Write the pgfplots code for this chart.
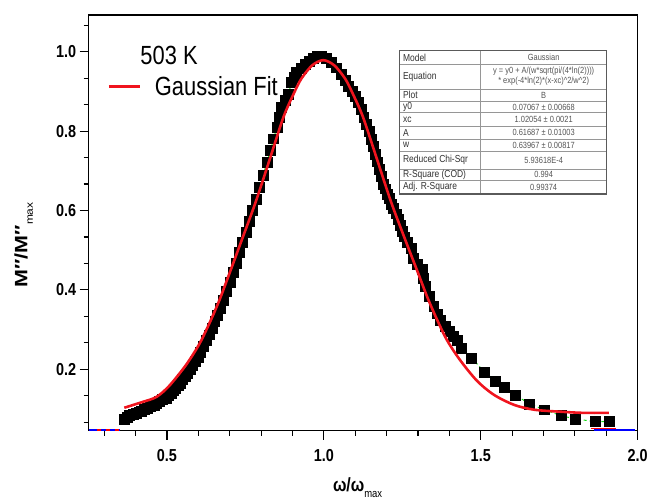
\documentclass[border=0pt]{standalone}
\usepackage{pgfplots}
\pgfplotsset{compat=1.18}
\usepackage{pgfplotstable}
\usepackage{fontspec}
\setmainfont{Liberation Sans}
\definecolor{fitred}{RGB}{240,20,30}
\definecolor{dgreen}{RGB}{20,220,20}
\definecolor{tabline}{RGB}{150,150,150}
\definecolor{tabframe}{RGB}{90,90,90}
\definecolor{tabtext}{RGB}{50,50,50}
\definecolor{valtext}{RGB}{85,85,85}

% measured points, 503 K
\pgfplotstableread{
x y
0.364 0.073
0.372 0.078
0.380 0.083
0.391 0.087
0.402 0.090
0.410 0.093
0.418 0.095
0.428 0.099
0.437 0.103
0.448 0.106
0.459 0.110
0.467 0.115
0.475 0.120
0.486 0.124
0.497 0.128
0.505 0.134
0.512 0.140
0.520 0.146
0.527 0.152
0.535 0.159
0.542 0.166
0.550 0.174
0.558 0.182
0.566 0.191
0.574 0.200
0.582 0.210
0.590 0.220
0.598 0.231
0.607 0.243
0.616 0.257
0.625 0.272
0.634 0.287
0.643 0.303
0.652 0.320
0.661 0.337
0.670 0.355
0.680 0.375
0.690 0.397
0.700 0.420
0.710 0.444
0.720 0.468
0.730 0.494
0.741 0.520
0.751 0.546
0.762 0.572
0.773 0.600
0.784 0.628
0.795 0.659
0.807 0.690
0.818 0.721
0.830 0.752
0.840 0.781
0.850 0.810
0.858 0.836
0.865 0.860
0.876 0.877
0.887 0.893
0.897 0.923
0.905 0.936
0.913 0.948
0.927 0.959
0.941 0.968
0.954 0.977
0.967 0.985
0.980 0.988
0.992 0.990
1.008 0.983
1.024 0.975
1.040 0.960
1.055 0.943
1.067 0.928
1.078 0.913
1.089 0.901
1.100 0.888
1.110 0.872
1.119 0.855
1.127 0.836
1.135 0.817
1.143 0.799
1.150 0.780
1.157 0.761
1.163 0.742
1.170 0.723
1.176 0.704
1.183 0.686
1.189 0.667
1.195 0.655
1.201 0.642
1.208 0.630
1.214 0.617
1.222 0.605
1.230 0.592
1.236 0.577
1.242 0.562
1.249 0.548
1.255 0.534
1.266 0.519
1.277 0.504
1.284 0.479
1.298 0.465
1.312 0.451
1.317 0.430
1.322 0.409
1.336 0.383
1.350 0.358
1.361 0.340
1.372 0.323
1.386 0.309
1.401 0.296
1.413 0.284
1.426 0.273
1.439 0.253
1.471 0.228
1.512 0.193
1.547 0.170
1.575 0.155
1.610 0.135
1.655 0.113
1.702 0.098
1.756 0.083
1.800 0.075
1.864 0.068
1.908 0.068
}\datatable

% Gaussian fit curve
\pgfplotstableread{
x y
0.364 0.103
0.420 0.117
0.466 0.130
0.507 0.158
0.560 0.210
0.602 0.262
0.633 0.312
0.665 0.370
0.697 0.437
0.738 0.525
0.782 0.620
0.827 0.728
0.871 0.835
0.903 0.893
0.928 0.932
0.963 0.966
0.998 0.979
1.033 0.966
1.068 0.932
1.093 0.893
1.125 0.835
1.169 0.730
1.214 0.622
1.258 0.529
1.299 0.445
1.331 0.379
1.363 0.321
1.394 0.271
1.436 0.221
1.489 0.170
1.543 0.135
1.607 0.110
1.670 0.098
1.753 0.093
1.829 0.090
1.908 0.090
}\fittable

\newcommand\tl{\fontsize{8.5}{8.5}\selectfont\color{tabtext}}
\newcommand\tv{\fontsize{7.5}{7.5}\selectfont\color{valtext}}

\begin{document}
\begin{tikzpicture}
\path (-89pt,-72pt) rectangle (562pt,433pt);
\begin{axis}[
  at={(0pt,0pt)}, anchor=south west,
  scale only axis, width=552pt, height=418pt,
  xmin=0.25, xmax=2.0, ymin=0.045, ymax=1.093,
  clip marker paths=true,
  axis line style={line width=1.4pt},
  xtick={0.5,1.0,1.5,2.0},
  minor xtick={0.3,0.4,0.6,0.7,0.8,0.9,1.1,1.2,1.3,1.4,1.6,1.7,1.8,1.9},
  ytick={0.2,0.4,0.6,0.8,1.0},
  minor ytick={0.0667,0.1333,0.2667,0.3333,0.4667,0.5333,0.6667,0.7333,0.8667,0.9333,1.0667},
  xtick pos=bottom, ytick pos=left,
  tick align=outside,
  major tick length=9pt, minor tick length=5pt,
  tick style={line width=1.2pt, black},
  /pgf/number format/.cd, fixed, fixed zerofill, precision=1, assume math mode=true,
  /pgfplots/.cd,
  tick label style={font=\bfseries\fontsize{14.5}{15}\selectfont, yscale=1.2},
  xticklabel style={yshift=-5pt},
  xlabel={\bfseries\fontsize{16}{16}\selectfont ω/ω\raisebox{-0.3em}{\fontsize{9.5}{9.5}\selectfont\mdseries max}},
  xlabel style={at={(axis description cs:0.49,-0.136)}, anchor=center, yscale=1.2},
  ylabel={\scalebox{1.2}[1]{\bfseries\fontsize{18}{18}\selectfont M″/M″\raisebox{-0.3em}{\fontsize{10}{10}\selectfont\mdseries max}}},
  ylabel style={at={(axis description cs:-0.118,0.447)}, anchor=center},
  legend style={draw=none, fill=none, at={(axis description cs:0.0344,0.8278)}, anchor=west,
    inner sep=0pt, font=\fontsize{22}{22}\selectfont, nodes={inner sep=0pt},
    /tikz/every odd column/.append style={column sep=14pt}},
  legend cell align=left,
]
\addplot[dgreen, line width=1pt, dash pattern=on 3pt off 3pt, forget plot] table {\datatable};
\addplot[only marks, mark=square*, mark size=5pt, black, forget plot] table {\datatable};
\addplot[blue, line width=1.6pt, forget plot] coordinates {(0.25,0.047) (0.35,0.047)};
\addplot[red, line width=1.6pt, dash pattern=on 4pt off 5pt, forget plot] coordinates {(0.278,0.047) (0.36,0.047)};
\addplot[blue, line width=1.6pt, forget plot] coordinates {(1.86,0.047) (1.99,0.047)};
\addplot[red, line width=1.6pt, forget plot] coordinates {(1.85,0.051) (1.93,0.051)};
\addplot[fitred, line width=2.6pt, smooth,
  legend image code/.code={\draw[fitred, line width=2.6pt] (0pt,0pt) -- (31pt,0pt);}] table {\fittable};
\addlegendentry{\scalebox{1}[1.2]{Gaussian Fit}}
\end{axis}

\node[anchor=west, inner sep=0pt, yscale=1.2, font=\fontsize{22}{22}\selectfont] at (52pt,377pt) {503 K};

% fit results table
\fill[white] (313pt,238pt) rectangle (521pt,382pt);
\foreach \yy in {368,343.7,331.3,319.7,306.3,293,281.3,263,251.3}
  \draw[tabline, line width=0.6pt] (313pt,\yy pt) -- (521pt,\yy pt);
\draw[tabline, line width=0.6pt] (394pt,238pt) -- (394pt,382pt);
\draw[tabframe, line width=1.1pt] (313pt,238pt) rectangle (521pt,382pt);
\begin{scope}[every node/.style={inner sep=0pt, yscale=1.2}]
\node[anchor=west] at (316pt,375pt) {\tl Model};
\node[anchor=west] at (316pt,355.9pt) {\tl Equation};
\node[anchor=west] at (316pt,337.5pt) {\tl Plot};
\node[anchor=west] at (316pt,325.5pt) {\tl y0};
\node[anchor=west] at (316pt,313pt) {\tl xc};
\node[anchor=west] at (316pt,299.7pt) {\tl A};
\node[anchor=west] at (316pt,287.2pt) {\tl w};
\node[anchor=west] at (316pt,272.2pt) {\tl Reduced Chi-Sqr};
\node[anchor=west] at (316pt,257.2pt) {\tl R-Square (COD)};
\node[anchor=west] at (316pt,244.7pt) {\tl Adj. R-Square};
\node at (457.5pt,375pt) {\tv Gaussian};
\node at (457.5pt,361.3pt) {\tv y = y0 + A/(w*sqrt(pi/(4*ln(2))))};
\node at (457.5pt,351.5pt) {\tv * exp(-4*ln(2)*(x-xc)\textasciicircum 2/w\textasciicircum 2)};
\node at (457.5pt,337.5pt) {\tv B};
\node at (457.5pt,325.5pt) {\tv 0.07067 ± 0.00668};
\node at (457.5pt,313pt) {\tv 1.02054 ± 0.0021};
\node at (457.5pt,299.7pt) {\tv 0.61687 ± 0.01003};
\node at (457.5pt,287.2pt) {\tv 0.63967 ± 0.00817};
\node at (457.5pt,272.2pt) {\tv 5.93618E-4};
\node at (457.5pt,257.2pt) {\tv 0.994};
\node at (457.5pt,244.7pt) {\tv 0.99374};
\end{scope}
\end{tikzpicture}
\end{document}
